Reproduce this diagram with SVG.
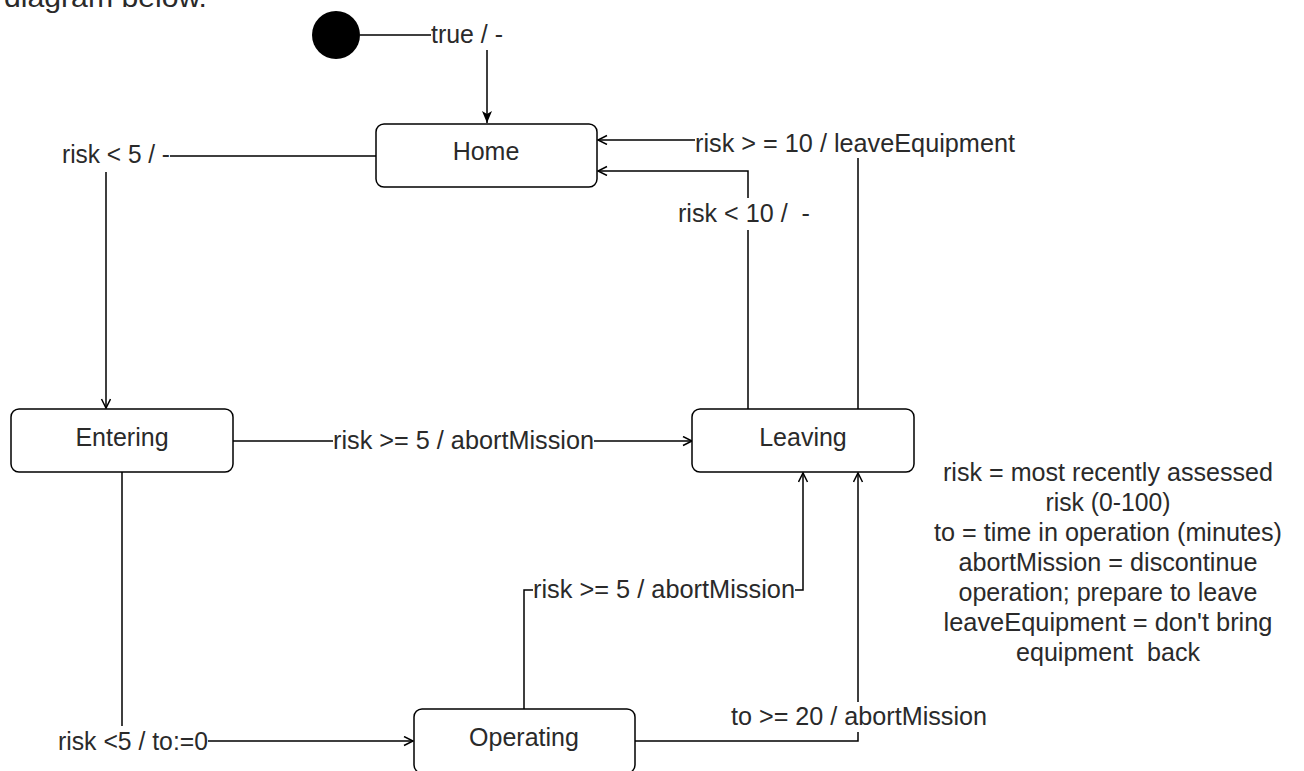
<svg xmlns="http://www.w3.org/2000/svg" width="1304" height="771" viewBox="0 0 1304 771">
<style>
  .st { fill: #ffffff; stroke: #000000; stroke-width: 1.5; }
  .t { font-family: "Liberation Sans", Arial, sans-serif; font-size: 25px; fill: #2a2a2a; white-space: pre; }
  .c { text-anchor: middle; }
  .e { fill: none; stroke: #000000; stroke-width: 1.5; }
  .bg { fill: #ffffff; }
</style>
<defs>
  <marker id="open" markerUnits="userSpaceOnUse" markerWidth="12" markerHeight="12" refX="10" refY="5" orient="auto">
    <path d="M1,0.5 L10,5 L1,9.5" fill="none" stroke="#000000" stroke-width="1.5"/>
  </marker>
  <marker id="filled" markerUnits="userSpaceOnUse" markerWidth="14" markerHeight="12" refX="12" refY="5" orient="auto">
    <path d="M0,0 L12,5 L0,10 L3,5 Z" fill="#000000"/>
  </marker>
</defs>

<text class="t" x="4" y="7" style="font-size:28px" textLength="203" lengthAdjust="spacingAndGlyphs">diagram below.</text>

<g id="connectors">
  <path class="e" d="M360,35 L487,35 L487,123" marker-end="url(#filled)"/>
  <path class="e" d="M376,156 L106,156 L106,408" marker-end="url(#open)"/>
  <path class="e" d="M233,441 L692,441" marker-end="url(#open)"/>
  <path class="e" d="M122,472 L122,741 L413,741" marker-end="url(#open)"/>
  <path class="e" d="M524,709 L524,590 L803,590 L803,473" marker-end="url(#open)"/>
  <path class="e" d="M635,741 L858,741 L858,473" marker-end="url(#open)"/>
  <path class="e" d="M748,409 L748,171 L598,171" marker-end="url(#open)"/>
  <path class="e" d="M858,409 L858,140 L598,140" marker-end="url(#open)"/>

  <g id="labels">
    <rect class="bg" x="431" y="20" width="72" height="30"/>
    <text class="t" x="431" y="43" textLength="72" lengthAdjust="spacingAndGlyphs">true / -</text>
    <rect class="bg" x="62" y="142" width="108" height="30"/>
    <text class="t" x="62" y="163" textLength="108" lengthAdjust="spacingAndGlyphs">risk &lt; 5 / -</text>
    <rect class="bg" x="333" y="427" width="261" height="28"/>
    <text class="t" x="333" y="449" textLength="261" lengthAdjust="spacingAndGlyphs">risk &gt;= 5 / abortMission</text>
    <rect class="bg" x="58" y="726" width="150" height="30"/>
    <text class="t" x="58" y="750" textLength="150" lengthAdjust="spacingAndGlyphs">risk &lt;5 / to:=0</text>
    <rect class="bg" x="533" y="576" width="262" height="28"/>
    <text class="t" x="533" y="598" textLength="262" lengthAdjust="spacingAndGlyphs">risk &gt;= 5 / abortMission</text>
    <rect class="bg" x="731" y="702" width="256" height="30"/>
    <text class="t" x="731" y="725" textLength="256" lengthAdjust="spacingAndGlyphs">to &gt;= 20 / abortMission</text>
    <rect class="bg" x="678" y="198" width="132" height="32"/>
    <text class="t" x="678" y="222" textLength="132" lengthAdjust="spacingAndGlyphs">risk &lt; 10 /  -</text>
    <rect class="bg" x="695" y="125" width="320" height="33"/>
    <text class="t" x="695" y="152" textLength="320" lengthAdjust="spacingAndGlyphs">risk &gt; = 10 / leaveEquipment</text>
  </g>
</g>

<g id="initial">
  <circle cx="336" cy="35" r="24" fill="#000000"/>
</g>

<g id="home">
  <rect class="st" x="376" y="124" width="221" height="63" rx="8"/>
  <text class="t c" x="486" y="160">Home</text>
</g>

<g id="entering">
  <rect class="st" x="11" y="409" width="222" height="63" rx="8"/>
  <text class="t c" x="122" y="446">Entering</text>
</g>

<g id="leaving">
  <rect class="st" x="692" y="409" width="222" height="63" rx="8"/>
  <text class="t c" x="803" y="446">Leaving</text>
</g>

<g id="operating">
  <rect class="st" x="414" y="709" width="221" height="64" rx="8"/>
  <text class="t c" x="524" y="746">Operating</text>
</g>

<g id="notes">
  <text class="t c" x="1108" y="481" textLength="330" lengthAdjust="spacingAndGlyphs">risk = most recently assessed</text>
  <text class="t c" x="1108" y="511" textLength="125" lengthAdjust="spacingAndGlyphs">risk (0-100)</text>
  <text class="t c" x="1108" y="541" textLength="348" lengthAdjust="spacingAndGlyphs">to = time in operation (minutes)</text>
  <text class="t c" x="1108" y="571" textLength="299" lengthAdjust="spacingAndGlyphs">abortMission = discontinue</text>
  <text class="t c" x="1108" y="601" textLength="299" lengthAdjust="spacingAndGlyphs">operation; prepare to leave</text>
  <text class="t c" x="1108" y="631" textLength="329" lengthAdjust="spacingAndGlyphs">leaveEquipment = don't bring</text>
  <text class="t c" x="1108" y="661" textLength="184" lengthAdjust="spacingAndGlyphs">equipment  back</text>
</g>
</svg>
